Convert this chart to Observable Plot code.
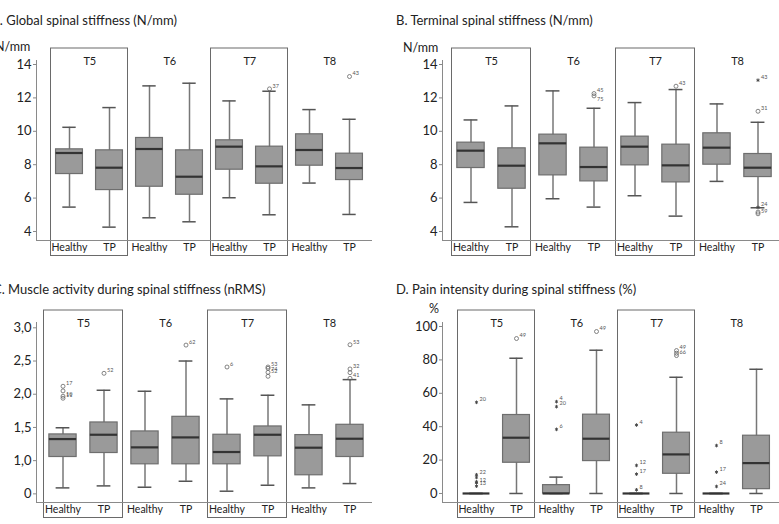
<!DOCTYPE html>
<html><head><meta charset="utf-8">
<script src="https://cdn.jsdelivr.net/npm/d3@7"></script>
<script src="https://cdn.jsdelivr.net/npm/@observablehq/plot@0.6"></script>
<style>
body{margin:0;background:#fff;width:779px;height:524px;overflow:hidden;position:relative;font-family:Lato,"Open Sans",sans-serif;color:#222;}
.panel{position:absolute;}
.title{position:absolute;font-size:13px;line-height:16px;white-space:nowrap;}
.unit{position:absolute;font-size:12.5px;line-height:16px;white-space:nowrap;}
svg{overflow:visible;}
</style></head><body>
<div class="title" style="left:-9px;top:12px">A. Global spinal stiffness (N/mm)</div>
<div class="title" style="left:396px;top:12px">B. Terminal spinal stiffness (N/mm)</div>
<div class="title" style="left:-7px;top:281px">C. Muscle activity during spinal stiffness (nRMS)</div>
<div class="title" style="left:396px;top:281px">D. Pain intensity during spinal stiffness (%)</div>
<div class="unit" style="left:-5px;top:39px">N/mm</div>
<div class="unit" style="left:403px;top:40px">N/mm</div>
<div class="unit" style="left:429px;top:301px">%</div>
<div id="A" class="panel" style="left:0;top:0"></div>
<div id="B" class="panel" style="left:389px;top:0"></div>
<div id="C" class="panel" style="left:0;top:262px"></div>
<div id="D" class="panel" style="left:389px;top:262px"></div>
<script>
// ---- data ----
const levels = ["T5", "T6", "T7", "T8"];
const groups = ["Healthy", "TP"];
const framedLevels = ["T5", "T7"];

// each row: [min, Q1, median, Q3, max]; order T5 Healthy, T5 TP, T6 Healthy, T6 TP, ...
const globalStats = [
  [5.46, 7.44, 8.70, 8.92, 10.24],
  [4.26, 6.48, 7.82, 8.86, 11.42],
  [4.82, 6.68, 8.94, 9.60, 12.72],
  [4.58, 6.20, 7.28, 8.86, 12.88],
  [6.02, 7.70, 9.08, 9.46, 11.82],
  [5.00, 6.86, 7.90, 9.08, 12.40],
  [6.90, 7.94, 8.88, 9.82, 11.30],
  [5.02, 7.08, 7.80, 8.66, 10.72]
];
const terminalStats = [
  [5.74, 7.80, 8.84, 9.32, 10.68],
  [4.28, 6.56, 7.94, 8.98, 11.52],
  [5.96, 7.36, 9.28, 9.80, 12.42],
  [5.46, 7.00, 7.86, 9.02, 11.38],
  [6.14, 7.96, 9.08, 9.68, 11.72],
  [4.92, 6.94, 7.96, 9.20, 12.50],
  [7.00, 8.00, 9.02, 9.88, 11.64],
  [5.42, 7.26, 7.82, 8.64, 10.54]
];
const muscleStats = [
  [0.59, 1.055, 1.325, 1.395, 1.495],
  [0.62, 1.115, 1.39, 1.575, 2.06],
  [0.60, 0.945, 1.20, 1.44, 2.045],
  [0.69, 0.945, 1.35, 1.66, 2.50],
  [0.54, 0.945, 1.13, 1.39, 1.93],
  [0.63, 1.065, 1.39, 1.515, 1.985],
  [0.59, 0.78, 1.195, 1.385, 1.84],
  [0.655, 1.055, 1.33, 1.54, 2.22]
];
const painStats = [
  [0, 0, 0, 0, 0],
  [0, 18.4, 33.4, 47.0, 81.0],
  [0, 0, 0, 5.0, 9.8],
  [0, 19.4, 32.8, 47.2, 85.8],
  [0, 0, 0, 0, 0],
  [0, 11.8, 23.4, 36.4, 69.6],
  [0, 0, 0, 0, 0],
  [0, 2.6, 18.2, 34.6, 74.4]
];

// outliers: [level, group, value, case label, "o" circle | "*" extreme]
const globalOutliers = [
  ["T7", "TP", 12.54, "37", "o"],
  ["T8", "TP", 13.28, "43", "o"]
];
const terminalOutliers = [
  ["T6", "TP", 12.26, "45", "o"], ["T6", "TP", 12.12, "75", "o"],
  ["T7", "TP", 12.70, "43", "o"],
  ["T8", "TP", 13.06, "43", "*"], ["T8", "TP", 11.20, "31", "o"],
  ["T8", "TP", 5.44, "24", "*"], ["T8", "TP", 5.16, "", "o"], ["T8", "TP", 5.06, "59", "o"]
];
const muscleOutliers = [
  ["T5", "Healthy", 2.12, "17", "o"], ["T5", "Healthy", 2.05, "10", "o"],
  ["T5", "Healthy", 1.97, "", "o"], ["T5", "Healthy", 1.94, "11", "o"],
  ["T5", "TP", 2.315, "52", "o"],
  ["T6", "TP", 2.74, "62", "o"],
  ["T7", "Healthy", 2.41, "6", "o"],
  ["T7", "TP", 2.41, "53", "o"], ["T7", "TP", 2.39, "52", "o"],
  ["T7", "TP", 2.33, "74", "o"], ["T7", "TP", 2.27, "", "o"],
  ["T8", "TP", 2.745, "53", "o"], ["T8", "TP", 2.38, "32", "o"],
  ["T8", "TP", 2.325, "", "o"], ["T8", "TP", 2.24, "41", "o"]
];
const painOutliers = [
  ["T5", "Healthy", 54.6, "20", "*"], ["T5", "Healthy", 11.2, "22", "*"],
  ["T5", "Healthy", 9.6, "12", "*"], ["T5", "Healthy", 7.0, "", "*"],
  ["T5", "Healthy", 6.4, "", "*"], ["T5", "Healthy", 4.4, "13", "*"],
  ["T5", "TP", 92.8, "49", "o"],
  ["T6", "Healthy", 55.0, "4", "*"], ["T6", "Healthy", 52.0, "20", "*"],
  ["T6", "Healthy", 38.4, "6", "*"],
  ["T6", "TP", 97.0, "49", "o"],
  ["T7", "Healthy", 41.0, "4", "*"], ["T7", "Healthy", 16.8, "12", "*"],
  ["T7", "Healthy", 11.6, "17", "*"], ["T7", "Healthy", 2.2, "8", "*"],
  ["T7", "TP", 85.6, "49", "o"], ["T7", "TP", 84.0, "", "o"], ["T7", "TP", 82.6, "66", "o"],
  ["T8", "Healthy", 28.7, "8", "*"], ["T8", "Healthy", 12.8, "17", "*"],
  ["T8", "Healthy", 4.2, "24", "*"]
];

const stiffTicks = [4, 6, 8, 10, 12, 14];
const stiffTickLabels = ["4", "6", "8", "10", "12", "14"];
const muscleTicks = [0.5, 1.0, 1.5, 2.0, 2.5, 3.0];
const muscleTickLabels = ["0", "1,0", "1,5", "2,0", "2,5", "3,0"];
const painTicks = [0, 20, 40, 60, 80, 100];
const painTickLabels = ["0", "20", "40", "60", "80", "100"];

// ---- drawing ----
const keys = levels.flatMap(l => groups.map(g => l + "|" + g));

function panel(el, stats, outliers, ticks, tickLabels, cfg) {
  const boxes = stats.map((s, i) => ({key: keys[i], min: s[0], q1: s[1], med: s[2], q3: s[3], max: s[4]}));
  const outs = outliers.map(([l, g, v, lab, m]) => ({key: l + "|" + g, value: v, label: lab, mark: m}));
  const width = cfg.width, height = 262;
  const pxPerUnit = (height - 60 - 22) / (cfg.domain[1] - cfg.domain[0]);
  // labels that would collide with the label just above them go under their symbol
  const labelled = outs.filter(d => d.label);
  let prev = null;
  labelled.forEach(d => {
    d.below = prev && prev.key === d.key && !prev.below && (prev.value - d.value) * pxPerUnit < 5;
    prev = d;
  });
  const step = (width - cfg.marginLeft - cfg.marginRight - cfg.insetLeft) / keys.length;
  const boxInset = (step - 27.5) / 2;
  const capInset = (step - 14) / 2;
  const chart = Plot.plot({
    width, height,
    marginTop: 60, marginBottom: 22, marginLeft: cfg.marginLeft, marginRight: cfg.marginRight,
    style: {fontFamily: "Lato, 'Open Sans', sans-serif", background: "transparent", color: "#222", overflow: "visible"},
    x: {type: "band", domain: keys, padding: 0, insetLeft: cfg.insetLeft, label: null},
    y: {domain: cfg.domain, label: null},
    marks: [
      Plot.rect(framedLevels, {x1: d => d + "|Healthy", x2: d => d + "|TP",
        insetTop: -12, insetBottom: -15.5, insetLeft: 1.5, insetRight: 1.5,
        fill: "none", stroke: "#6a6a6a", strokeWidth: 1}),
      Plot.frame({anchor: "left", stroke: "#8a8a8a"}),
      Plot.frame({anchor: "bottom", stroke: "#8a8a8a"}),
      Plot.ruleX(boxes, {x: "key", y1: "min", y2: "max", stroke: "#777", strokeWidth: 1.5}),
      Plot.tickY(boxes, {x: "key", y: "min", stroke: "#555", strokeWidth: 1.5, insetLeft: capInset, insetRight: capInset}),
      Plot.tickY(boxes, {x: "key", y: "max", stroke: "#555", strokeWidth: 1.5, insetLeft: capInset, insetRight: capInset}),
      Plot.barY(boxes, {x: "key", y1: "q1", y2: "q3", fill: "#9a9a9a", stroke: "#6e6e6e", strokeWidth: 1.2,
        insetLeft: boxInset, insetRight: boxInset}),
      Plot.tickY(boxes, {x: "key", y: "med", stroke: "#333", strokeWidth: 2.2, insetLeft: boxInset, insetRight: boxInset}),
      Plot.dot(outs.filter(d => d.mark === "o"), {x: "key", y: "value", r: 2, stroke: "#666", strokeWidth: 0.8, fill: "none"}),
      Plot.dot(outs.filter(d => d.mark === "*"), {x: "key", y: "value", r: 1.7, symbol: "asterisk", stroke: "#444", strokeWidth: 0.9}),
      Plot.text(labelled.filter(d => !d.below), {x: "key", y: "value", text: "label", dx: 3, dy: -3, textAnchor: "start", fontSize: 5.5, fill: "#555"}),
      Plot.text(labelled.filter(d => d.below), {x: "key", y: "value", text: "label", dx: 3, dy: 3, textAnchor: "start", fontSize: 5.5, fill: "#555"}),
      Plot.text(levels, {x: d => d + "|Healthy", text: d => d, frameAnchor: "top", dx: step / 2, dy: -3, fontSize: 11, fill: "#222"}),
      Plot.axisY(ticks, {tickFormat: d => tickLabels[ticks.indexOf(d)], tickSize: 3, tickPadding: 2, fontSize: 13, stroke: "#888", fill: "#222"}),
      Plot.axisX({tickFormat: k => k.split("|")[1], tickSize: 0, tickPadding: 3, fontSize: 10.5, fill: "#222", label: null})
    ]
  });
  document.getElementById(el).appendChild(chart);
}

panel("A", globalStats, globalOutliers, stiffTicks, stiffTickLabels,
  {width: 389, marginLeft: 36, marginRight: 18, insetLeft: 10, domain: [3.46, 14.24]});
panel("B", terminalStats, terminalOutliers, stiffTicks, stiffTickLabels,
  {width: 390, marginLeft: 53, marginRight: 1, insetLeft: 7, domain: [3.46, 14.24]});
panel("C", muscleStats, muscleOutliers, muscleTicks, muscleTickLabels,
  {width: 389, marginLeft: 36, marginRight: 18, insetLeft: 5, domain: [0.37, 3.08]});
panel("D", painStats, painOutliers, painTicks, painTickLabels,
  {width: 390, marginLeft: 53, marginRight: 1, insetLeft: 11, domain: [-5.4, 102.4]});
</script>
</body></html>
